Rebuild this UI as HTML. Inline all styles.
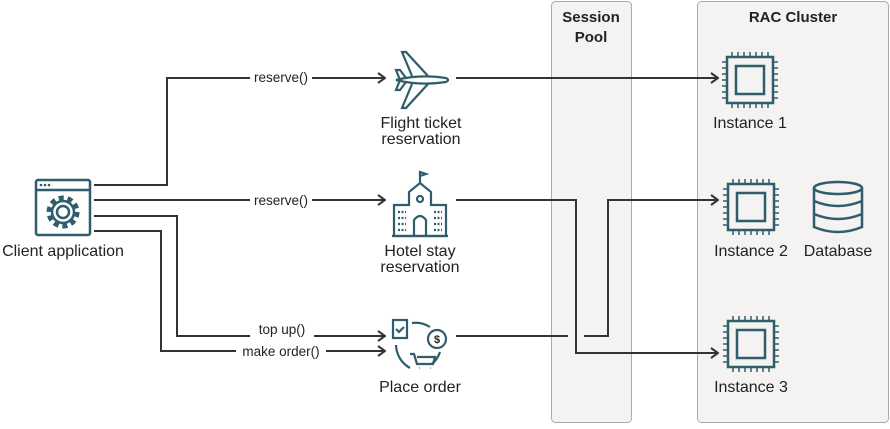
<!DOCTYPE html>
<html><head><style>
body{margin:0;background:#fff;}
svg text{font-family:"Liberation Sans",sans-serif;fill:#222;}
</style></head><body>
<svg width="890" height="424" viewBox="0 0 890 424" xmlns="http://www.w3.org/2000/svg">
<defs>
<g id="chip">
<rect x="-23" y="-23" width="46" height="46" fill="none" stroke="#2f5d6b" stroke-width="2.5"/>
<rect x="-14" y="-14" width="28" height="28" fill="none" stroke="#2f5d6b" stroke-width="2.5"/>
<path d="M-18,-28v4M-12,-28v4M-6,-28v4M0,-28v4M6,-28v4M12,-28v4M18,-28v4M-18,24v4M-12,24v4M-6,24v4M0,24v4M6,24v4M12,24v4M18,24v4M-28,-18h4M-28,-12h4M-28,-6h4M-28,0h4M-28,6h4M-28,12h4M-28,18h4M24,-18h4M24,-12h4M24,-6h4M24,0h4M24,6h4M24,12h4M24,18h4" stroke="#2f5d6b" stroke-width="1.5"/>
</g>
<marker id="ar" markerWidth="10" markerHeight="12" refX="9" refY="6" orient="auto" markerUnits="userSpaceOnUse">
<path d="M2,1 L9,6 L2,11" fill="none" stroke="#333" stroke-width="2"/>
</marker>
</defs>
<rect x="551.5" y="1.5" width="80" height="421" rx="4" fill="#f4f3f1" stroke="#aaa"/>
<rect x="697.5" y="1.5" width="191" height="421" rx="4" fill="#f4f3f1" stroke="#aaa"/>
<text x="591" y="22" font-size="15" text-anchor="middle" font-weight="bold" fill="#444">Session</text>
<text x="591" y="42" font-size="15" text-anchor="middle" font-weight="bold" fill="#444">Pool</text>
<text x="793" y="22" font-size="15" text-anchor="middle" font-weight="bold" fill="#444">RAC Cluster</text>

<g fill="none" stroke="#333" stroke-width="2">
<path d="M94,185H167V78H385" marker-end="url(#ar)"/>
<path d="M94,200H385" marker-end="url(#ar)"/>
<path d="M94,216H177V336H385" marker-end="url(#ar)"/>
<path d="M94,231H161V351H385" marker-end="url(#ar)"/>
<path d="M456,78H718" marker-end="url(#ar)"/>
<path d="M456,200H576V353H718" marker-end="url(#ar)"/>
<path d="M456,336H568M584,336H608V200H718" marker-end="url(#ar)"/>
</g>
<g font-size="13.5" text-anchor="middle">
<rect x="250" y="70" width="62" height="16" fill="#fff"/><text x="281" y="82">reserve()</text>
<rect x="250" y="192" width="62" height="16" fill="#fff"/><text x="281" y="205">reserve()</text>
<rect x="250" y="322" width="64" height="20" fill="#fff"/><text x="282" y="334">top up()</text>
<rect x="236" y="343" width="90" height="16" fill="#fff"/><text x="281" y="356">make order()</text>
</g>

<!-- client icon -->
<g stroke="#2f5d6b" fill="none" stroke-width="2.5">
<rect x="36" y="180" width="54" height="55" rx="2"/>
<path d="M36,190H90"/>
<circle cx="63" cy="212" r="6"/>
<circle cx="63" cy="212" r="14" stroke-dasharray="5 3.8" stroke-width="5"/>
<circle cx="63" cy="212" r="11"/>
</g>
<g fill="#2f5d6b"><circle cx="41" cy="185" r="1.3"/><circle cx="45" cy="185" r="1.3"/><circle cx="49" cy="185" r="1.3"/></g>
<text x="63" y="256" font-size="16" text-anchor="middle">Client application</text>

<!-- plane -->
<g stroke="#2f5d6b" fill="none" stroke-width="2.2">
<path d="M396,80 Q420,74 446,78 Q450,80 446,82 Q420,86 396,80Z"/>
<path d="M412,76 L402,52 L406,52 L428,76M412,84 L402,108 L406,108 L428,84"/>
<path d="M400,80 L396,70 L400,70 L406,78M400,80 L396,90 L400,90 L406,82"/>
</g>
<text x="421" y="128" font-size="16" text-anchor="middle">Flight ticket</text>
<text x="421" y="144" font-size="16" text-anchor="middle">reservation</text>

<!-- hotel -->
<g stroke="#2f5d6b" fill="none" stroke-width="2.2">
<path d="M394,236V205H409V192L420,183L431,192V205H446V236Z"/>
<path d="M420,183V172L426,174L420,176"/>
<circle cx="420" cy="199" r="3"/>
<path d="M414,236V220Q420,212 426,220V236"/>
<path d="M392,236H448"/>
<path d="M398,212h8M398,218h8M398,224h8M398,230h8M434,212h8M434,218h8M434,224h8M434,230h8" stroke-dasharray="2 1.5"/>
</g>
<text x="420" y="256" font-size="16" text-anchor="middle">Hotel stay</text>
<text x="420" y="272" font-size="16" text-anchor="middle">reservation</text>

<!-- place order -->
<g stroke="#2f5d6b" fill="none" stroke-width="2.2">
<rect x="393" y="320" width="14" height="18"/>
<path d="M396,329l3,3l5,-5"/>
<path d="M412,323 A27,27 0 0 1 430,327M396,345 A27,27 0 0 0 410,368M440,352 A27,27 0 0 1 432,364"/>
<circle cx="437" cy="339" r="9"/>
<path d="M410,354h4l3,10h16l2,-7h-18M419,368h0.5M430,368h0.5"/>
</g>
<text x="437" y="343" font-size="11" text-anchor="middle" font-weight="bold" fill="#2f5d6b">$</text>
<text x="420" y="392" font-size="16" text-anchor="middle">Place order</text>

<use href="#chip" x="750" y="80"/>
<use href="#chip" x="751" y="207"/>
<use href="#chip" x="751" y="344"/>
<text x="750" y="128" font-size="16" text-anchor="middle">Instance 1</text>
<text x="751" y="256" font-size="16" text-anchor="middle">Instance 2</text>
<text x="751" y="392" font-size="16" text-anchor="middle">Instance 3</text>

<!-- database -->
<g stroke="#2f5d6b" fill="none" stroke-width="2.5">
<ellipse cx="838" cy="188" rx="24" ry="6"/>
<path d="M814,188V227Q838,237 862,227V188M814,201Q838,211 862,201M814,214Q838,224 862,214"/>
</g>
<text x="838" y="256" font-size="16" text-anchor="middle">Database</text>
</svg>
</body></html>
